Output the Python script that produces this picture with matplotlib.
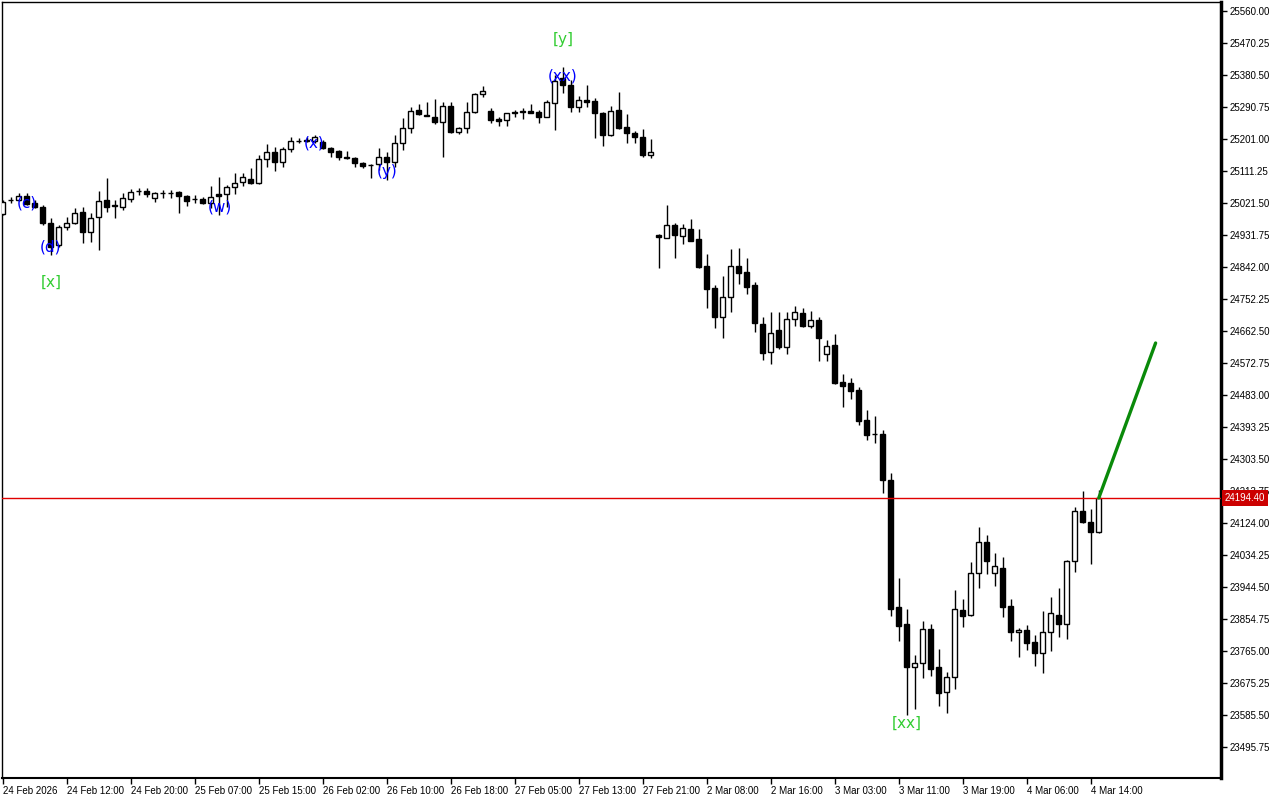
import matplotlib
matplotlib.use("Agg")
import matplotlib.pyplot as plt
import matplotlib.transforms as mtransforms

opens = [24990.7, 25029.9, 25029.9, 25041.1, 25021.5, 25010.3, 24965.4, 24903.7, 24954.2, 24965.4,
         24996.3, 24940.2, 24982.2, 25029.9, 25013.1, 25010.3, 25032.7, 25055.2, 25055.2, 25035.5,
         25049.5, 25049.5, 25052.4, 25041.1, 25032.7, 25032.7, 25021.5, 25046.7, 25046.7, 25066.4,
         25080.4, 25088.8, 25077.6, 25144.9, 25164.5, 25136.5, 25173.0, 25195.4, 25198.2, 25195.4,
         25192.6, 25175.8, 25167.3, 25150.5, 25147.7, 25133.7, 25128.1, 25130.9, 25150.5, 25136.5,
         25189.8, 25231.9, 25282.3, 25268.3, 25262.7, 25248.7, 25293.6, 25220.6, 25231.9, 25276.7,
         25327.2, 25279.5, 25257.1, 25254.3, 25276.7, 25276.7, 25279.5, 25276.7, 25262.7, 25302.0,
         25372.1, 25352.4, 25290.8, 25310.4, 25307.6, 25273.9, 25212.2, 25282.3, 25234.7, 25217.8,
         25206.6, 25156.1, 24931.7, 24923.3, 24959.8, 24928.9, 24948.6, 24920.5, 24844.8, 24783.1,
         24701.8, 24757.9, 24844.8, 24827.9, 24791.5, 24682.1, 24603.6, 24665.3, 24617.6, 24696.2,
         24713.0, 24676.5, 24693.4, 24598.0, 24623.2, 24519.4, 24516.6, 24497.0, 24412.9, 24373.6,
         24373.6, 24244.6, 23888.4, 23840.7, 23720.1, 23731.3, 23826.7, 23720.1, 23650.0, 23692.1,
         23880.0, 23866.0, 23983.8, 24070.7, 23983.8, 23997.8, 23891.2, 23818.3, 23823.9, 23790.2,
         23759.4, 23818.3, 23866.0, 23840.7, 24017.4, 24157.6, 24126.8, 24098.7]

closes = [25024.3, 25030.5, 25041.1, 25018.7, 25010.3, 24965.4, 24898.1, 24954.2, 24965.4, 24993.5,
          24940.2, 24979.4, 25027.1, 25010.3, 25015.9, 25035.5, 25052.4, 25055.2, 25046.7, 25049.5,
          25049.5, 25049.5, 25041.1, 25027.1, 25032.7, 25021.5, 25038.3, 25042.5, 25066.4, 25077.6,
          25094.4, 25077.6, 25144.9, 25164.5, 25136.5, 25173.0, 25195.4, 25195.4, 25195.4, 25206.6,
          25175.8, 25164.5, 25150.5, 25146.3, 25133.7, 25125.3, 25128.1, 25150.5, 25136.5, 25189.8,
          25231.9, 25279.5, 25271.1, 25265.5, 25248.7, 25293.6, 25220.6, 25231.9, 25276.7, 25327.2,
          25335.6, 25254.3, 25251.5, 25273.9, 25273.9, 25278.1, 25273.9, 25262.7, 25304.8, 25363.7,
          25352.4, 25290.8, 25310.4, 25304.8, 25273.9, 25212.2, 25279.5, 25231.9, 25217.8, 25206.6,
          25156.1, 25164.5, 24926.1, 24959.8, 24931.7, 24951.4, 24914.9, 24842.0, 24780.3, 24701.8,
          24757.9, 24844.8, 24825.1, 24785.9, 24684.9, 24600.8, 24656.9, 24617.6, 24696.2, 24715.8,
          24676.5, 24693.4, 24642.9, 24620.4, 24516.6, 24508.2, 24494.2, 24410.1, 24370.8, 24372.2,
          24244.6, 23882.8, 23835.1, 23720.1, 23731.3, 23826.7, 23714.5, 23647.2, 23692.1, 23882.8,
          23863.2, 23983.8, 24070.7, 24017.4, 24003.4, 23888.4, 23818.3, 23823.9, 23787.4, 23759.4,
          23818.3, 23871.6, 23840.7, 24017.4, 24157.6, 24126.8, 24098.7, 24194.4]

highs = [25029.9, 25038.3, 25049.5, 25049.5, 25029.9, 25015.9, 24979.4, 24959.8, 24982.2, 25007.5,
         25010.3, 24993.5, 25055.2, 25091.6, 25029.9, 25049.5, 25060.8, 25063.6, 25063.6, 25052.4,
         25058.0, 25058.0, 25055.2, 25043.9, 25043.9, 25038.3, 25069.2, 25094.4, 25072.0, 25105.6,
         25105.6, 25119.7, 25156.1, 25187.0, 25178.6, 25178.6, 25206.6, 25203.8, 25206.6, 25212.2,
         25198.2, 25178.6, 25170.1, 25167.3, 25150.5, 25136.5, 25130.9, 25175.8, 25164.5, 25212.2,
         25259.9, 25290.8, 25299.2, 25304.8, 25313.2, 25304.8, 25304.8, 25234.7, 25304.8, 25330.0,
         25349.6, 25288.0, 25262.7, 25274.5, 25282.3, 25288.0, 25299.2, 25282.3, 25310.4, 25380.5,
         25402.9, 25366.5, 25321.6, 25352.4, 25316.0, 25276.7, 25293.6, 25332.8, 25271.1, 25223.4,
         25229.0, 25201.0, 24934.5, 25015.9, 24965.4, 24962.6, 24976.6, 24948.6, 24878.5, 24791.5,
         24816.8, 24892.5, 24895.3, 24867.2, 24799.9, 24701.8, 24715.8, 24715.8, 24715.8, 24732.6,
         24727.0, 24718.6, 24701.8, 24637.3, 24654.1, 24541.9, 24530.6, 24505.4, 24440.9, 24424.1,
         24384.8, 24264.3, 23969.7, 23882.8, 23753.8, 23849.1, 23840.7, 23770.6, 23706.1, 23936.1,
         23910.9, 24014.6, 24112.8, 24090.4, 24039.8, 24028.6, 23910.9, 23829.5, 23837.9, 23809.9,
         23877.2, 23916.5, 23941.7, 24020.2, 24168.8, 24214.5, 24163.2, 24217.3]

lows = [24987.8, 25021.5, 25028.0, 25015.9, 25007.5, 24959.8, 24875.7, 24898.1, 24945.8, 24962.6,
        24909.3, 24912.1, 24889.7, 24996.3, 24979.4, 25001.9, 25024.3, 25043.9, 25038.3, 25024.3,
        25035.5, 25035.5, 24993.5, 25013.1, 25021.5, 25018.7, 25007.5, 24987.8, 25010.3, 25046.7,
        25069.2, 25074.8, 25074.8, 25122.5, 25111.3, 25122.5, 25164.5, 25189.8, 25192.6, 25189.8,
        25173.0, 25150.5, 25142.1, 25144.0, 25122.5, 25119.7, 25091.6, 25114.1, 25086.0, 25122.5,
        25170.1, 25217.8, 25268.3, 25264.5, 25243.1, 25150.5, 25217.8, 25215.0, 25217.8, 25273.9,
        25318.8, 25245.9, 25237.5, 25237.5, 25262.7, 25257.1, 25273.0, 25245.9, 25261.5, 25226.2,
        25330.0, 25276.7, 25276.7, 25290.8, 25203.8, 25181.4, 25209.4, 25230.0, 25189.8, 25189.8,
        25150.5, 25147.7, 24839.2, 24922.0, 24867.2, 24906.5, 24914.0, 24839.2, 24727.0, 24670.9,
        24642.9, 24715.8, 24794.3, 24766.3, 24659.7, 24581.2, 24569.9, 24612.0, 24598.0, 24676.5,
        24673.7, 24670.9, 24578.4, 24578.4, 24515.0, 24449.3, 24471.8, 24398.9, 24356.8, 24348.4,
        24208.1, 23863.2, 23793.0, 23585.5, 23602.3, 23689.3, 23694.9, 23610.7, 23591.1, 23658.4,
        23832.3, 23863.2, 23941.7, 23981.0, 23947.3, 23860.4, 23793.0, 23748.2, 23767.8, 23722.9,
        23703.3, 23764.9, 23804.3, 23798.7, 23986.6, 24124.0, 24009.0, 24095.9]

time_tick_idx = [0, 8, 16, 24, 32, 40, 48, 56, 64, 72, 80, 88, 96, 104, 112, 120, 128, 136]
time_tick_labels = ["24 Feb 2026", "24 Feb 12:00", "24 Feb 20:00", "25 Feb 07:00", "25 Feb 15:00",
                    "26 Feb 02:00", "26 Feb 10:00", "26 Feb 18:00", "27 Feb 05:00", "27 Feb 13:00",
                    "27 Feb 21:00", "2 Mar 08:00", "2 Mar 16:00", "3 Mar 03:00", "3 Mar 11:00",
                    "3 Mar 19:00", "4 Mar 06:00", "4 Mar 14:00"]

price_ticks = [25560.00, 25470.25, 25380.50, 25290.75, 25201.00, 25111.25, 25021.50, 24931.75,
               24842.00, 24752.25, 24662.50, 24572.75, 24483.00, 24393.25, 24303.50, 24213.75,
               24124.00, 24034.25, 23944.50, 23854.75, 23765.00, 23675.25, 23585.50, 23495.75]

current_price = 24194.40

forecast_x = [137, 144.1]
forecast_y = [24194.4, 24628.8]

wave_labels = ["(c)", "(d)", "[x]", "(w)", "(x)", "(y)", "[y]", "(xx)", "[xx]"]
wave_x = [3, 6, 6, 27.1, 38.9, 48, 70.1, 70, 113]
wave_y = [25021.5, 24898, 24800, 25010, 25190, 25111, 25479, 25378, 23563]
wave_colors = ["#0000ff", "#0000ff", "#32cd32", "#0000ff", "#0000ff", "#0000ff",
               "#32cd32", "#0000ff", "#32cd32"]

AXFONT = "Liberation Sans"

fig = plt.figure(figsize=(12.8, 8.0), dpi=100)
ax = fig.add_axes([2 / 1280, 22 / 800, 1219 / 1280, 776 / 800])

n = len(opens)
xs = list(range(n))

# wicks
ax.vlines(xs, lows, highs, colors="black", linewidth=1.0, zorder=2)

# bodies
for i in xs:
    o, c = opens[i], closes[i]
    bull = c >= o
    h = c - o
    if abs(h) < 0.5:
        h = 0.5 if bull else -0.5
    ax.bar(i, h, bottom=o, width=0.62,
           facecolor="white" if bull else "black",
           edgecolor="black", linewidth=1.0, zorder=3)

# current price line
ax.axhline(current_price, color="#e00000", linewidth=1.0, zorder=4)

# forecast
ax.plot(forecast_x, forecast_y, color="#0a8a0a", linewidth=2.4, zorder=5,
        solid_capstyle="round")

# wave labels
for lab, x, y, col in zip(wave_labels, wave_x, wave_y, wave_colors):
    ax.text(x, y, lab, color=col, fontsize=11, ha="center", va="center", zorder=6)

ax.set_xlim(-0.1, 152.275)
ax.set_ylim(23408.8, 25585.2)

ax.yaxis.tick_right()
ax.set_yticks(price_ticks)
ax.set_yticklabels([f"{v:.2f}" for v in price_ticks], fontfamily=AXFONT)
ax.tick_params(axis="y", direction="out", length=4, width=1, pad=2, labelsize=7)

ax.set_xticks(time_tick_idx)
ax.set_xticklabels(time_tick_labels, fontfamily=AXFONT)
for t in ax.get_xticklabels():
    t.set_ha("left")
ax.tick_params(axis="x", direction="out", length=4, width=1, pad=2, labelsize=7)

for s in ["top", "left"]:
    ax.spines[s].set_linewidth(1.0)
ax.spines["right"].set_linewidth(2.5)
ax.spines["bottom"].set_linewidth(1.5)

# price box on axis
trans = mtransforms.blended_transform_factory(ax.transAxes, ax.transData)
ax.text(1.003, current_price, f"{current_price:.2f}", transform=trans, color="white",
        fontsize=7, fontfamily=AXFONT, ha="left", va="center", clip_on=False, zorder=10,
        bbox=dict(boxstyle="square,pad=0.3", facecolor="#cc0000", edgecolor="none"))

fig.savefig("out.png", dpi=100)
